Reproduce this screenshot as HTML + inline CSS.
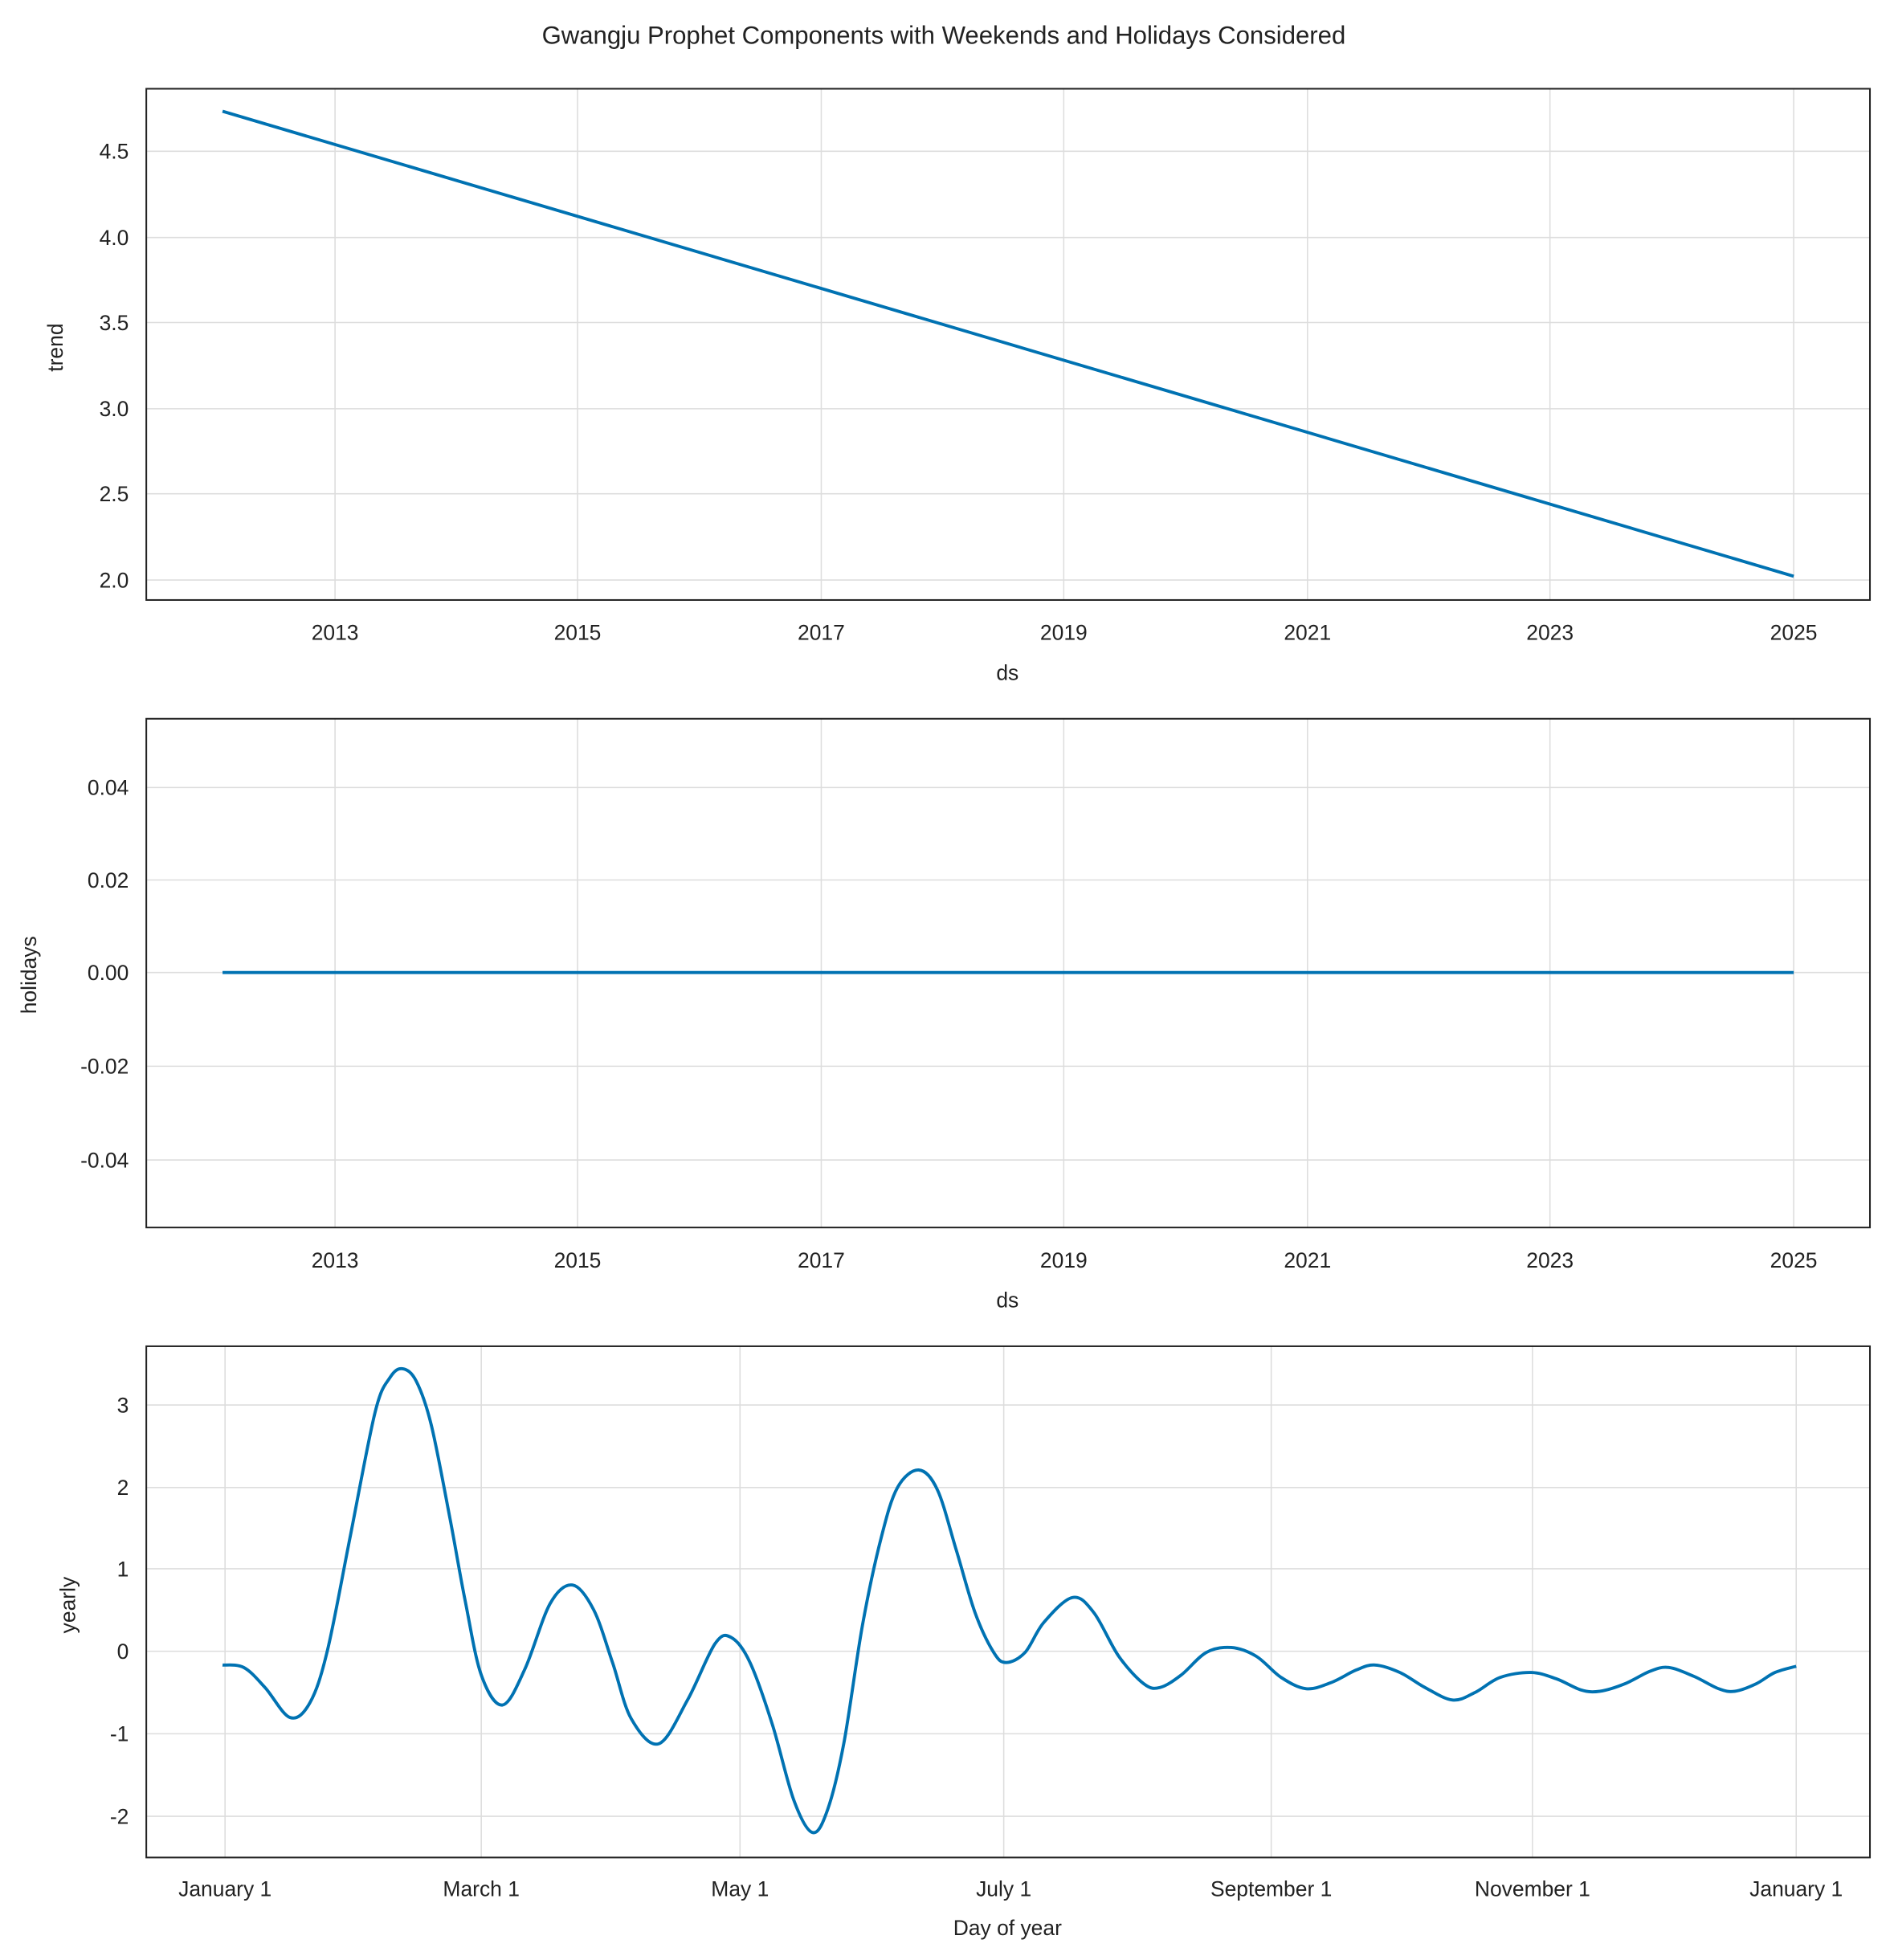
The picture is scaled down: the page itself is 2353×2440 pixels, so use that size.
<!DOCTYPE html>
<html><head><meta charset="utf-8"><style>
html,body{margin:0;padding:0;background:#fff;}
svg{display:block;}
text{font-family:"Liberation Sans","Noto Sans CJK KR",sans-serif;fill:#222;}
</style></head><body>
<svg width="2353" height="2440" viewBox="0 0 1512 1568" xmlns="http://www.w3.org/2000/svg">
<rect width="1512" height="1568" fill="#fff"/>
<text x="755" y="35" font-size="20" text-anchor="middle">Gwangju Prophet Components with Weekends and Holidays Considered</text>

<!-- Panel 1 -->
<g stroke="#ddd" stroke-width="1">
<line x1="268" y1="71" x2="268" y2="480"/><line x1="462" y1="71" x2="462" y2="480"/><line x1="657" y1="71" x2="657" y2="480"/><line x1="851" y1="71" x2="851" y2="480"/><line x1="1046" y1="71" x2="1046" y2="480"/><line x1="1240" y1="71" x2="1240" y2="480"/><line x1="1435" y1="71" x2="1435" y2="480"/>
<line x1="117" y1="121" x2="1496" y2="121"/><line x1="117" y1="190" x2="1496" y2="190"/><line x1="117" y1="258" x2="1496" y2="258"/><line x1="117" y1="327" x2="1496" y2="327"/><line x1="117" y1="395" x2="1496" y2="395"/><line x1="117" y1="464" x2="1496" y2="464"/>
</g>
<line x1="178" y1="89" x2="1435" y2="461" stroke="#0072B2" stroke-width="2.5"/>
<rect x="117" y="71" width="1379" height="409" fill="none" stroke="#222" stroke-width="1.3"/>
<g font-size="17" text-anchor="end">
<text x="103" y="127">4.5</text><text x="103" y="196">4.0</text><text x="103" y="264">3.5</text><text x="103" y="333">3.0</text><text x="103" y="401">2.5</text><text x="103" y="470">2.0</text>
</g>
<g font-size="17" text-anchor="middle">
<text x="268" y="512">2013</text><text x="462" y="512">2015</text><text x="657" y="512">2017</text><text x="851" y="512">2019</text><text x="1046" y="512">2021</text><text x="1240" y="512">2023</text><text x="1435" y="512">2025</text>
<text x="806" y="544">ds</text>
</g>
<text transform="translate(50,278) rotate(-90)" font-size="17" text-anchor="middle">trend</text>

<!-- Panel 2 -->
<g stroke="#ddd" stroke-width="1">
<line x1="268" y1="575" x2="268" y2="982"/><line x1="462" y1="575" x2="462" y2="982"/><line x1="657" y1="575" x2="657" y2="982"/><line x1="851" y1="575" x2="851" y2="982"/><line x1="1046" y1="575" x2="1046" y2="982"/><line x1="1240" y1="575" x2="1240" y2="982"/><line x1="1435" y1="575" x2="1435" y2="982"/>
<line x1="117" y1="630" x2="1496" y2="630"/><line x1="117" y1="704" x2="1496" y2="704"/><line x1="117" y1="778" x2="1496" y2="778"/><line x1="117" y1="853" x2="1496" y2="853"/><line x1="117" y1="928" x2="1496" y2="928"/>
</g>
<line x1="178" y1="778" x2="1435" y2="778" stroke="#0072B2" stroke-width="2.5"/>
<rect x="117" y="575" width="1379" height="407" fill="none" stroke="#222" stroke-width="1.3"/>
<g font-size="17" text-anchor="end">
<text x="103" y="636">0.04</text><text x="103" y="710">0.02</text><text x="103" y="784">0.00</text><text x="103" y="859">-0.02</text><text x="103" y="934">-0.04</text>
</g>
<g font-size="17" text-anchor="middle">
<text x="268" y="1014">2013</text><text x="462" y="1014">2015</text><text x="657" y="1014">2017</text><text x="851" y="1014">2019</text><text x="1046" y="1014">2021</text><text x="1240" y="1014">2023</text><text x="1435" y="1014">2025</text>
<text x="806" y="1046">ds</text>
</g>
<text transform="translate(29,780) rotate(-90)" font-size="17" text-anchor="middle">holidays</text>

<!-- Panel 3 -->
<g stroke="#ddd" stroke-width="1">
<line x1="180" y1="1077" x2="180" y2="1486"/><line x1="385" y1="1077" x2="385" y2="1486"/><line x1="592" y1="1077" x2="592" y2="1486"/><line x1="803" y1="1077" x2="803" y2="1486"/><line x1="1017" y1="1077" x2="1017" y2="1486"/><line x1="1226" y1="1077" x2="1226" y2="1486"/><line x1="1437" y1="1077" x2="1437" y2="1486"/>
<line x1="117" y1="1124" x2="1496" y2="1124"/><line x1="117" y1="1190" x2="1496" y2="1190"/><line x1="117" y1="1255" x2="1496" y2="1255"/><line x1="117" y1="1321" x2="1496" y2="1321"/><line x1="117" y1="1387" x2="1496" y2="1387"/><line x1="117" y1="1453" x2="1496" y2="1453"/>
</g>
<polyline id="yl" fill="none" stroke="#0072B2" stroke-width="2.5" stroke-linejoin="round" points="178,1332 195,1334 212,1350 232,1374 248,1362 262,1320 280,1230 300,1130 312,1102 322,1095 333,1105 345,1140 360,1215 372,1280 385,1340 402,1364 420,1335 440,1283 458,1268 475,1288 490,1330 505,1375 527,1395 550,1360 572,1315 585,1310 600,1330 618,1380 635,1440 650,1466 662,1448 675,1395 690,1300 705,1230 718,1190 735,1176 750,1192 765,1240 780,1290 795,1322 805,1330 820,1322 835,1298 858,1278 875,1290 895,1325 915,1347 928,1350 945,1340 965,1322 985,1318 1005,1325 1025,1342 1045,1351 1065,1346 1085,1336 1100,1332 1120,1338 1140,1350 1162,1360 1180,1354 1200,1342 1225,1338 1245,1343 1265,1352 1280,1353 1300,1347 1320,1337 1335,1334 1355,1341 1375,1351 1388,1353 1405,1347 1420,1338 1437,1333"/>
<path id="ys" fill="none" stroke="#0072B2" stroke-width="2.5" d=""/>
<rect x="117" y="1077" width="1379" height="409" fill="none" stroke="#222" stroke-width="1.3"/>
<g font-size="17" text-anchor="end">
<text x="103" y="1130">3</text><text x="103" y="1196">2</text><text x="103" y="1261">1</text><text x="103" y="1327">0</text><text x="103" y="1393">-1</text><text x="103" y="1459">-2</text>
</g>
<g font-size="17" text-anchor="middle">
<text x="180" y="1517">January 1</text><text x="385" y="1517">March 1</text><text x="592" y="1517">May 1</text><text x="803" y="1517">July 1</text><text x="1017" y="1517">September 1</text><text x="1226" y="1517">November 1</text><text x="1437" y="1517">January 1</text>
<text x="806" y="1548">Day of year</text>
</g>
<text transform="translate(60,1284) rotate(-90)" font-size="17" text-anchor="middle">yearly</text>
</svg>
<script>
(function(){
var pl=document.getElementById('yl');
var pts=pl.getAttribute('points').trim().split(/\s+/).map(function(s){return s.split(',').map(Number);});
var d='M'+pts[0][0]+','+pts[0][1];
for(var i=0;i<pts.length-1;i++){
var p0=pts[i-1]||pts[i],p1=pts[i],p2=pts[i+1],p3=pts[i+2]||p2;
var c1x=p1[0]+(p2[0]-p0[0])/6,c1y=p1[1]+(p2[1]-p0[1])/6;
var c2x=p2[0]-(p3[0]-p1[0])/6,c2y=p2[1]-(p3[1]-p1[1])/6;
d+=' C'+c1x.toFixed(1)+','+c1y.toFixed(1)+' '+c2x.toFixed(1)+','+c2y.toFixed(1)+' '+p2[0]+','+p2[1];
}
document.getElementById('ys').setAttribute('d',d);
pl.setAttribute('stroke','none');
})();
</script>
</body></html>
